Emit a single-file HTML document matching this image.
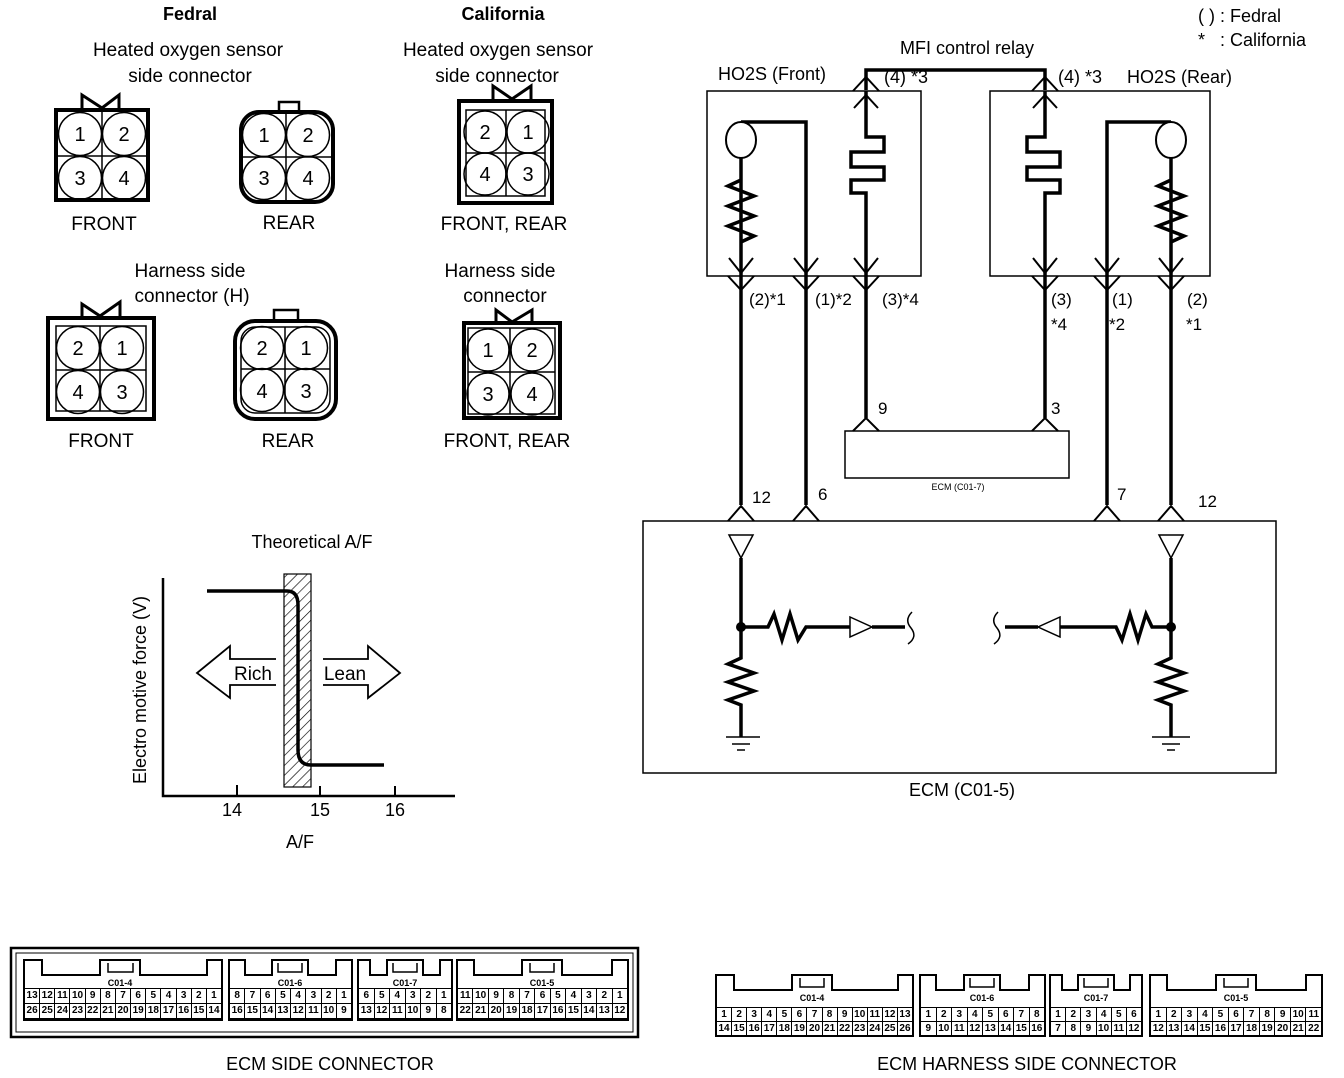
<!DOCTYPE html>
<html><head><meta charset="utf-8"><style>
body{margin:0;background:#fff;width:1344px;height:1078px;overflow:hidden;position:relative;font-family:"Liberation Sans",sans-serif}
svg{position:absolute;left:0;top:0}
.row{position:absolute;display:flex;border:1.5px solid #000;box-sizing:border-box;font:bold 10px "Liberation Sans",sans-serif}
.row span{flex:1;text-align:center;border-right:1px solid #000;line-height:13px}
.row span:last-child{border-right:none}
</style></head><body>
<svg width="1344" height="1078" viewBox="0 0 1344 1078" font-family="Liberation Sans, sans-serif" fill="none" stroke="#000">

<!-- Fedral HO2S front -->
<g stroke-width="1.5">
<rect x="56" y="110" width="92" height="90" stroke-width="4"/>
<path d="M102,112V198M58,156H146"/>
<circle cx="80" cy="134" r="21.5"/><circle cx="124" cy="134" r="21.5"/><circle cx="80" cy="178" r="21.5"/><circle cx="124" cy="178" r="21.5"/>
<path d="M82,110V95L102,108L119,95V110" stroke-width="3"/>
<rect x="241" y="112" width="92" height="90" rx="18" stroke-width="4"/>
<rect x="279" y="102" width="20" height="10" stroke-width="2.5"/>
<path d="M286,114V200M243,157H331"/>
<circle cx="264" cy="135" r="21.5"/><circle cx="308" cy="135" r="21.5"/><circle cx="264" cy="178" r="21.5"/><circle cx="308" cy="178" r="21.5"/>
<rect x="459" y="101" width="93" height="102" stroke-width="4"/>
<rect x="466" y="110" width="79" height="86"/>
<path d="M506,110V196M466,153H545"/>
<circle cx="485" cy="132" r="21"/><circle cx="528" cy="132" r="21"/><circle cx="485" cy="174" r="21"/><circle cx="528" cy="174" r="21"/>
<path d="M493,101V86L512,99L531,86V101" stroke-width="3"/>
<rect x="48" y="318" width="106" height="101" stroke-width="4"/>
<rect x="56" y="326" width="90" height="85"/>
<path d="M100,326V411M56,370H146"/>
<circle cx="78" cy="348" r="21.5"/><circle cx="122" cy="348" r="21.5"/><circle cx="78" cy="392" r="21.5"/><circle cx="122" cy="392" r="21.5"/>
<path d="M82,318V304L100,316L120,302V318" stroke-width="3"/>
<rect x="235" y="321" width="101" height="98" rx="20" stroke-width="4"/>
<rect x="241" y="327" width="89" height="86" rx="14"/>
<rect x="274" y="310" width="24" height="11" stroke-width="2.5"/>
<path d="M285,327V413M241,369H330"/>
<circle cx="262" cy="348" r="21.5"/><circle cx="306" cy="348" r="21.5"/><circle cx="262" cy="390" r="21.5"/><circle cx="306" cy="390" r="21.5"/>
<rect x="464" y="323" width="96" height="95" stroke-width="4"/>
<rect x="468" y="328" width="87" height="86"/>
<path d="M510,328V414M468,372H555"/>
<circle cx="488" cy="350" r="21"/><circle cx="532" cy="350" r="21"/><circle cx="488" cy="394" r="21"/><circle cx="532" cy="394" r="21"/>
<path d="M496,323V310L512,322L532,310V323" stroke-width="3"/>
</g>

<!-- graph -->
<defs><pattern id="h" width="7" height="7" patternUnits="userSpaceOnUse" patternTransform="rotate(45)"><path d="M0,0V7" stroke="#000" stroke-width="1.3"/></pattern></defs>
<rect x="284" y="574" width="27" height="213" fill="url(#h)" stroke-width="1.2"/>
<path d="M163,578V796H455" stroke-width="2.5"/>
<path d="M237,785V796M320,786V796M395,786V796" stroke-width="2"/>
<path d="M207,591H287Q298,591 298,605V750Q298,765 311,765H384" stroke-width="3.5"/>
<path d="M276,659H230V646L197,673L230,698V685H276" stroke-width="1.8" fill="#fff"/>
<path d="M323,659H368V646L400,673L368,698V685H323" stroke-width="1.8" fill="#fff"/>

<!-- circuit -->
<g stroke-width="1.5">
<rect x="707" y="91" width="214" height="185"/>
<rect x="990" y="91" width="220" height="185"/>
<rect x="845" y="431" width="224" height="47"/>
<rect x="643" y="521" width="633" height="252"/>
</g>
<g stroke-width="3.5">
<path d="M866,90V70H1045V90"/>
<path d="M741,505V158M741,122V122H806V505"/>
<path d="M866,91V137H884V152H851V167H884V180H851V193H866V418"/>
<path d="M1045,91V137H1027V152H1060V167H1027V180H1060V193H1045V418"/>
<path d="M1107,505V122H1171V122M1171,158V505"/>
</g>
<g stroke-width="3.5" fill="none">
<path d="M741,180L728,186L754,196L728,206L754,216L728,226L754,236L741,242"/>
<path d="M1171,180L1158,186L1184,196L1158,206L1184,216L1158,226L1184,236L1171,242"/>
</g>
<g stroke-width="2" fill="#fff">
<ellipse cx="741" cy="140" rx="15" ry="18"/>
<ellipse cx="1171" cy="140" rx="15" ry="18"/>
</g>
<g stroke-width="2">
<path d="M729,258L741,273L753,258M794,258L806,273L818,258M854,258L866,273L878,258M1033,258L1045,273L1057,258M1095,258L1107,273L1119,258M1159,258L1171,273L1183,258"/>
<path d="M728,276L741,290L754,276M793,276L806,290L819,276M853,276L866,290L879,276M1032,276L1045,290L1058,276M1094,276L1107,290L1120,276M1158,276L1171,290L1184,276"/>
<path d="M853,91L866,77L879,91M854,108L866,95L878,108M1032,91L1045,77L1058,91M1033,108L1045,95L1057,108"/>
<path d="M853,431L866,418L879,431M1032,431L1045,418L1058,431"/>
<path d="M728,521L741,506L754,521M793,521L806,506L819,521M1094,521L1107,506L1120,521M1158,521L1171,506L1184,521"/>
<path d="M729,535H753L741,558Z M1159,535H1183L1171,558Z" stroke-width="1.5"/>
<path d="M850,617V637L872,627Z M1060,617V637L1038,627Z" stroke-width="1.5"/>
<path d="M912,612Q904,620 911,628Q918,637 908,644M998,612Q990,620 997,628Q1004,637 994,644" stroke-width="1.5"/>
<path d="M726,737H760M732,744H750M737,750H745M1152,737H1190M1162,744H1180M1167,750H1175" stroke-width="1.5"/>
</g>
<g stroke-width="3.5">
<path d="M741,558V658L728,664L754,673L728,682L754,691L728,700L741,705V737"/>
<path d="M741,627H768L774,614L782,640L790,614L798,640L806,627H850M872,627H905"/>
<path d="M1171,558V658L1158,664L1184,673L1158,682L1184,691L1158,700L1171,705V737"/>
<path d="M1171,627H1152L1146,614L1138,640L1130,614L1122,640L1116,627H1060M1038,627H1005"/>
</g>
<circle cx="741" cy="627" r="5" fill="#000" stroke="none"/><circle cx="1171" cy="627" r="5" fill="#000" stroke="none"/>

<!-- bottom connectors -->
<rect x="11" y="948" width="627" height="89" stroke-width="2.5"/>
<rect x="16" y="953" width="617" height="79" stroke-width="1"/>
<g stroke-width="2">
<path d="M24,1020V960H42V975H100V960H140V975H207V960H222V1020Z"/>
<path d="M229,1020V960H245V975H272V960H308V975H336V960H352V1020Z"/>
<path d="M358,1020V960H370V975H387V960H423V975H440V960H452V1020Z"/>
<path d="M457,1020V960H474V975H522V960H562V975H612V960H628V1020Z"/>
<path d="M716,1036V975H734V990H792V975H832V990H898V975H913V1036Z"/>
<path d="M920,1036V975H936V990H964V975H1000V990H1029V975H1045V1036Z"/>
<path d="M1050,1036V975H1062V990H1078V975H1114V990H1130V975H1142V1036Z"/>
<path d="M1150,1036V975H1167V990H1216V975H1256V990H1306V975H1322V1036Z"/>
</g>
<g stroke-width="1.5">
<path d="M108,963V972H133V963M278,963V972H302V963M393,963V972H417V963M530,963V972H554V963"/>
<path d="M800,978V987H824V978M970,978V987H994V978M1084,978V987H1108V978M1224,978V987H1248V978"/>
</g>

<g fill="#000" stroke="none" font-size="19" text-anchor="middle">
<text x="190" y="20" font-weight="bold" font-size="18">Fedral</text>
<text x="503" y="20" font-weight="bold" font-size="18">California</text>
<text x="188" y="56">Heated oxygen sensor</text><text x="190" y="82">side connector</text>
<text x="498" y="56">Heated oxygen sensor</text><text x="497" y="82">side connector</text>
<text x="104" y="230">FRONT</text><text x="289" y="229">REAR</text><text x="504" y="230">FRONT, REAR</text>
<text x="190" y="277">Harness side</text><text x="192" y="302">connector (H)</text>
<text x="500" y="277">Harness side</text><text x="505" y="302">connector</text>
<text x="101" y="447">FRONT</text><text x="288" y="447">REAR</text><text x="507" y="447">FRONT, REAR</text>
<text x="312" y="548" font-size="18">Theoretical A/F</text>
<text x="232" y="816" font-size="18">14</text><text x="320" y="816" font-size="18">15</text><text x="395" y="816" font-size="18">16</text>
<text x="300" y="848" font-size="18">A/F</text>
<text transform="translate(146,690) rotate(-90)" font-size="18">Electro motive force (V)</text>
<text x="253" y="680" font-size="19">Rich</text><text x="345" y="680" font-size="19">Lean</text>
<text x="1198" y="22" text-anchor="start" font-size="18">( ) : Fedral</text>
<text x="1198" y="46" text-anchor="start" font-size="18">*&#160;&#160;&#160;: California</text>
<text x="967" y="54" font-size="18">MFI control relay</text>
<text x="718" y="80" text-anchor="start" font-size="18">HO2S (Front)</text>
<text x="884" y="83" text-anchor="start" font-size="18">(4) *3</text>
<text x="1058" y="83" text-anchor="start" font-size="18">(4) *3</text>
<text x="1127" y="83" text-anchor="start" font-size="18">HO2S (Rear)</text>
<g font-size="17" text-anchor="start">
<text x="749" y="305">(2)*1</text><text x="815" y="305">(1)*2</text><text x="882" y="305">(3)*4</text>
<text x="1051" y="305">(3)</text><text x="1051" y="330">*4</text>
<text x="1112" y="305">(1)</text><text x="1109" y="330">*2</text>
<text x="1187" y="305">(2)</text><text x="1186" y="330">*1</text>
<text x="878" y="414">9</text><text x="1051" y="414">3</text>
<text x="752" y="503">12</text><text x="818" y="500">6</text><text x="1117" y="500">7</text><text x="1198" y="507">12</text>
</g>
<text x="958" y="490" font-size="9">ECM (C01-7)</text>
<text x="962" y="796" font-size="18">ECM (C01-5)</text>
<text x="330" y="1070" font-size="18">ECM SIDE CONNECTOR</text>
<text x="1027" y="1070" font-size="18">ECM HARNESS SIDE CONNECTOR</text>
<g font-size="20">
<text x="80" y="141">1</text><text x="124" y="141">2</text><text x="80" y="185">3</text><text x="124" y="185">4</text>
<text x="264" y="142">1</text><text x="308" y="142">2</text><text x="264" y="185">3</text><text x="308" y="185">4</text>
<text x="485" y="139">2</text><text x="528" y="139">1</text><text x="485" y="181">4</text><text x="528" y="181">3</text>
<text x="78" y="355">2</text><text x="122" y="355">1</text><text x="78" y="399">4</text><text x="122" y="399">3</text>
<text x="262" y="355">2</text><text x="306" y="355">1</text><text x="262" y="398">4</text><text x="306" y="398">3</text>
<text x="488" y="357">1</text><text x="532" y="357">2</text><text x="488" y="401">3</text><text x="532" y="401">4</text>
</g>
<g font-size="9" font-weight="bold">
<text x="120" y="986">C01-4</text><text x="290" y="986">C01-6</text><text x="405" y="986">C01-7</text><text x="542" y="986">C01-5</text>
<text x="812" y="1001">C01-4</text><text x="982" y="1001">C01-6</text><text x="1096" y="1001">C01-7</text><text x="1236" y="1001">C01-5</text>
</g>
</g>
</svg>
<div class="row" style="left:24px;top:988px;width:198px;height:16px"><span>13</span><span>12</span><span>11</span><span>10</span><span>9</span><span>8</span><span>7</span><span>6</span><span>5</span><span>4</span><span>3</span><span>2</span><span>1</span></div>
<div class="row" style="left:24px;top:1003px;width:198px;height:16px"><span>26</span><span>25</span><span>24</span><span>23</span><span>22</span><span>21</span><span>20</span><span>19</span><span>18</span><span>17</span><span>16</span><span>15</span><span>14</span></div>
<div class="row" style="left:229px;top:988px;width:123px;height:16px"><span>8</span><span>7</span><span>6</span><span>5</span><span>4</span><span>3</span><span>2</span><span>1</span></div>
<div class="row" style="left:229px;top:1003px;width:123px;height:16px"><span>16</span><span>15</span><span>14</span><span>13</span><span>12</span><span>11</span><span>10</span><span>9</span></div>
<div class="row" style="left:358px;top:988px;width:94px;height:16px"><span>6</span><span>5</span><span>4</span><span>3</span><span>2</span><span>1</span></div>
<div class="row" style="left:358px;top:1003px;width:94px;height:16px"><span>13</span><span>12</span><span>11</span><span>10</span><span>9</span><span>8</span></div>
<div class="row" style="left:457px;top:988px;width:171px;height:16px"><span>11</span><span>10</span><span>9</span><span>8</span><span>7</span><span>6</span><span>5</span><span>4</span><span>3</span><span>2</span><span>1</span></div>
<div class="row" style="left:457px;top:1003px;width:171px;height:16px"><span>22</span><span>21</span><span>20</span><span>19</span><span>18</span><span>17</span><span>16</span><span>15</span><span>14</span><span>13</span><span>12</span></div>

<div class="row" style="left:716px;top:1007px;width:197px;height:15px"><span>1</span><span>2</span><span>3</span><span>4</span><span>5</span><span>6</span><span>7</span><span>8</span><span>9</span><span>10</span><span>11</span><span>12</span><span>13</span></div>
<div class="row" style="left:716px;top:1021px;width:197px;height:15px"><span>14</span><span>15</span><span>16</span><span>17</span><span>18</span><span>19</span><span>20</span><span>21</span><span>22</span><span>23</span><span>24</span><span>25</span><span>26</span></div>
<div class="row" style="left:920px;top:1007px;width:125px;height:15px"><span>1</span><span>2</span><span>3</span><span>4</span><span>5</span><span>6</span><span>7</span><span>8</span></div>
<div class="row" style="left:920px;top:1021px;width:125px;height:15px"><span>9</span><span>10</span><span>11</span><span>12</span><span>13</span><span>14</span><span>15</span><span>16</span></div>
<div class="row" style="left:1050px;top:1007px;width:92px;height:15px"><span>1</span><span>2</span><span>3</span><span>4</span><span>5</span><span>6</span></div>
<div class="row" style="left:1050px;top:1021px;width:92px;height:15px"><span>7</span><span>8</span><span>9</span><span>10</span><span>11</span><span>12</span></div>
<div class="row" style="left:1150px;top:1007px;width:172px;height:15px"><span>1</span><span>2</span><span>3</span><span>4</span><span>5</span><span>6</span><span>7</span><span>8</span><span>9</span><span>10</span><span>11</span></div>
<div class="row" style="left:1150px;top:1021px;width:172px;height:15px"><span>12</span><span>13</span><span>14</span><span>15</span><span>16</span><span>17</span><span>18</span><span>19</span><span>20</span><span>21</span><span>22</span></div>
</body></html>
